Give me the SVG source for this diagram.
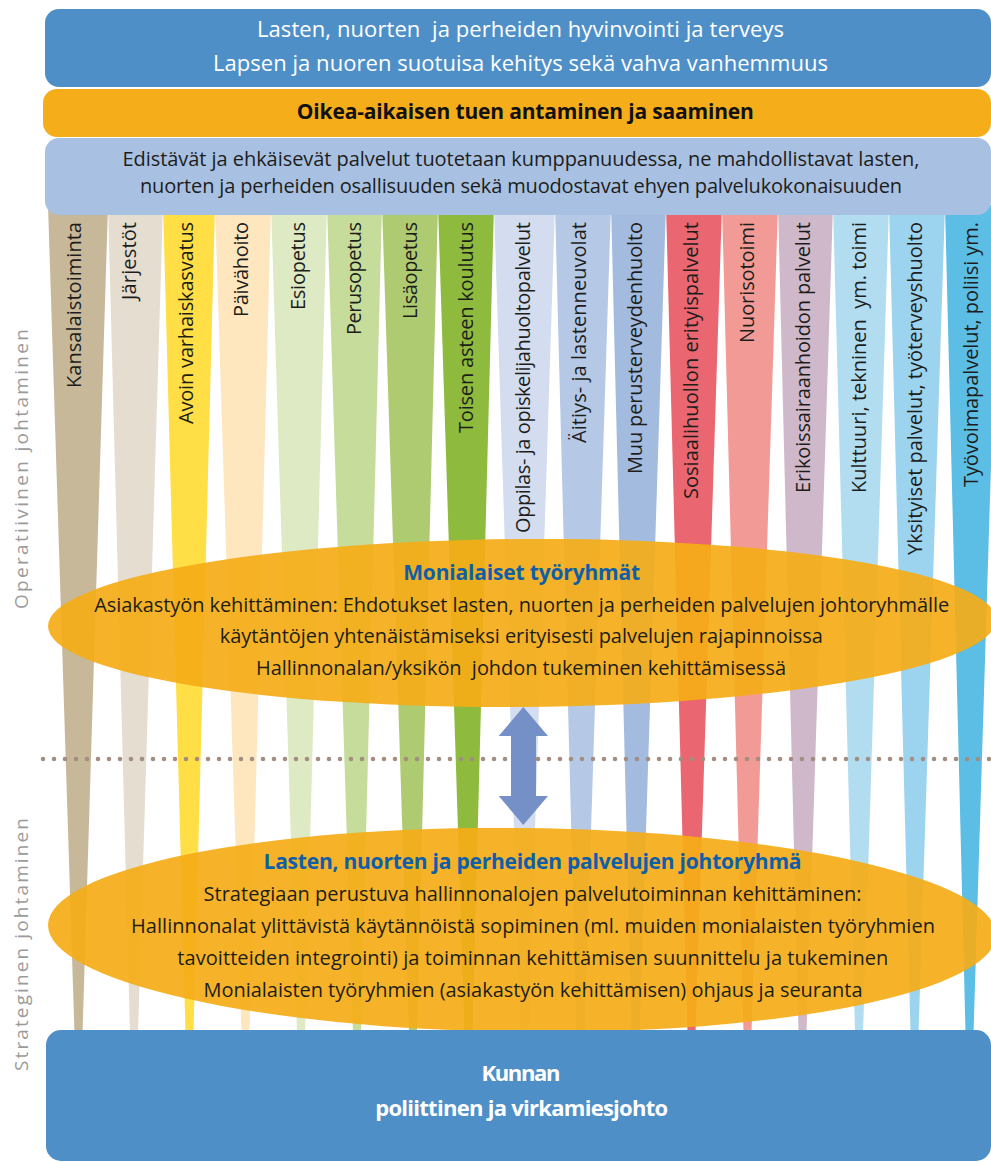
<svg xmlns="http://www.w3.org/2000/svg" width="991" height="1162" viewBox="0 0 991 1162">
<style>
text{font-family:"Open Sans","Noto Sans","DejaVu Sans",sans-serif}
.tw{fill:#fff;font-size:22px}
.tbar{fill:#111;font-size:21px;font-weight:700}
.tb{fill:#1d1d1b;font-size:20px}
.th{fill:#0f5ea8;font-size:21px;font-weight:700}
.tc{fill:#1d1d1b;font-size:20px}
.ts{fill:#9b9b9b;font-size:19px}
.tbot{fill:#fff;font-size:22px;font-weight:700}
.ell{fill:#F5AD17;fill-opacity:0.92}
.box{fill:#4F8FC7}
</style>
<g id="columns">
<g id="col-kansalaistoiminta"><polygon points="48,205 108,205 82.3,1040 74.7,1040" fill="#C8B89A"/><text class="tc" text-anchor="end" textLength="166" transform="translate(81,222) rotate(-90)">Kansalaistoiminta</text></g>
<g id="col-jarjestot"><polygon points="108,205 163,205 137.8,1040 130.2,1040" fill="#E5DED0"/><text class="tc" text-anchor="end" textLength="78" transform="translate(136,222) rotate(-90)">Järjestöt</text></g>
<g id="col-avoin"><polygon points="163,205 215,205 193.3,1040 185.7,1040" fill="#FFDE46"/><text class="tc" text-anchor="end" textLength="202" transform="translate(192.5,222) rotate(-90)">Avoin varhaiskasvatus</text></g>
<g id="col-paivahoito"><polygon points="215,205 271,205 249.3,1040 241.7,1040" fill="#FEE6BF"/><text class="tc" text-anchor="end" textLength="95" transform="translate(248,222) rotate(-90)">Päivähoito</text></g>
<g id="col-esiopetus"><polygon points="271,205 327,205 304.8,1040 297.2,1040" fill="#DEEAC4"/><text class="tc" text-anchor="end" textLength="88" transform="translate(304.5,222) rotate(-90)">Esiopetus</text></g>
<g id="col-perusopetus"><polygon points="327,205 382,205 360.8,1040 353.2,1040" fill="#C6DC9A"/><text class="tc" text-anchor="end" textLength="113" transform="translate(360.5,222) rotate(-90)">Perusopetus</text></g>
<g id="col-lisaopetus"><polygon points="382,205 438,205 416.8,1040 409.2,1040" fill="#AFCB72"/><text class="tc" text-anchor="end" textLength="97" transform="translate(417,222) rotate(-90)">Lisäopetus</text></g>
<g id="col-toisen-asteen"><polygon points="438,205 494,205 472.3,1040 464.7,1040" fill="#8EBB3E"/><text class="tc" text-anchor="end" textLength="211" transform="translate(473,222) rotate(-90)">Toisen asteen koulutus</text></g>
<g id="col-oppilashuolto"><polygon points="494,205 555,205 528.3,1040 520.7,1040" fill="#D3DDEF"/><text class="tc" text-anchor="end" textLength="311" transform="translate(530,222) rotate(-90)">Oppilas- ja opiskelijahuoltopalvelut</text></g>
<g id="col-neuvolat"><polygon points="555,205 611,205 584.3,1040 576.7,1040" fill="#B5C8E6"/><text class="tc" text-anchor="end" textLength="221" transform="translate(585.5,222) rotate(-90)">Äitiys- ja lastenneuvolat</text></g>
<g id="col-perusterveydenhuolto"><polygon points="611,205 666,205 639.3,1040 631.7,1040" fill="#A2BBDF"/><text class="tc" text-anchor="end" textLength="252" transform="translate(642,222) rotate(-90)">Muu perusterveydenhuolto</text></g>
<g id="col-sosiaalihuolto"><polygon points="666,205 722,205 695.3,1040 687.7,1040" fill="#EA6670"/><text class="tc" text-anchor="end" textLength="277" transform="translate(698,222) rotate(-90)">Sosiaalihuollon erityispalvelut</text></g>
<g id="col-nuorisotoimi"><polygon points="722,205 778,205 751.3,1040 743.7,1040" fill="#F29B96"/><text class="tc" text-anchor="end" textLength="121" transform="translate(753.5,222) rotate(-90)">Nuorisotoimi</text></g>
<g id="col-erikoissairaanhoito"><polygon points="778,205 833,205 806.3,1040 798.7,1040" fill="#CFB8CA"/><text class="tc" text-anchor="end" textLength="271" transform="translate(809.5,222) rotate(-90)">Erikoissairaanhoidon palvelut</text></g>
<g id="col-kulttuuri"><polygon points="833,205 889,205 862.8,1040 855.2,1040" fill="#B2DDF1"/><text class="tc" text-anchor="end" textLength="271" transform="translate(865.5,222) rotate(-90)">Kulttuuri, tekninen&#160; ym. toimi</text></g>
<g id="col-yksityiset"><polygon points="889,205 945,205 918.3,1040 910.7,1040" fill="#9CD3EE"/><text class="tc" text-anchor="end" textLength="333" transform="translate(922,222) rotate(-90)">Yksityiset palvelut, työterveyshuolto</text></g>
<g id="col-tyovoima"><polygon points="945,205 999,205 973.3,1040 965.7,1040" fill="#5CBDE5"/><text class="tc" text-anchor="end" textLength="265" transform="translate(978,222) rotate(-90)">Työvoimapalvelut, poliisi ym.</text></g>
</g>
<g id="goal-box">
<rect class="box" x="45" y="9" width="946" height="78" rx="14"/>
<text class="tw" x="520.5" y="37" text-anchor="middle" textLength="527">Lasten, nuorten&#160; ja perheiden hyvinvointi ja terveys</text>
<text class="tw" x="520.5" y="70.5" text-anchor="middle" textLength="615">Lapsen ja nuoren suotuisa kehitys sekä vahva vanhemmuus</text>
</g>
<g id="support-bar">
<rect x="43" y="89" width="948" height="48" rx="14" fill="#F5AE1A"/>
<text class="tbar" x="525.3" y="119.3" text-anchor="middle" textLength="457">Oikea-aikaisen tuen antaminen ja saaminen</text>
</g>
<g id="services-box">
<rect x="45" y="138" width="946" height="77" rx="14" fill="#A8C1E2"/>
<text class="tb" x="521" y="166" text-anchor="middle" textLength="797">Edistävät ja ehkäisevät palvelut tuotetaan kumppanuudessa, ne mahdollistavat lasten,</text>
<text class="tb" x="521" y="193.3" text-anchor="middle" textLength="762">nuorten ja perheiden osallisuuden sekä muodostavat ehyen palvelukokonaisuuden</text>
</g>
<g id="workgroups">
<ellipse class="ell" cx="522" cy="623" rx="474" ry="84" transform="rotate(-0.4 522 623)"/>
<text class="th" x="521.7" y="580" text-anchor="middle" textLength="237">Monialaiset työryhmät</text>
<text class="tb" x="521.7" y="611.7" text-anchor="middle" textLength="855">Asiakastyön kehittäminen: Ehdotukset lasten, nuorten ja perheiden palvelujen johtoryhmälle</text>
<text class="tb" x="521.3" y="643.3" text-anchor="middle" textLength="603">käytäntöjen yhtenäistämiseksi erityisesti palvelujen rajapinnoissa</text>
<text class="tb" x="521" y="675" text-anchor="middle" textLength="530">Hallinnonalan/yksikön&#160; johdon tukeminen kehittämisessä</text>
</g>
<g id="steering-group">
<ellipse class="ell" cx="522" cy="930" rx="474" ry="102" transform="rotate(0.6 522 930)"/>
<text class="th" x="532.5" y="869.3" text-anchor="middle" textLength="538">Lasten, nuorten ja perheiden palvelujen johtoryhmä</text>
<text class="tb" x="532.5" y="901" text-anchor="middle" textLength="658">Strategiaan perustuva hallinnonalojen palvelutoiminnan kehittäminen:</text>
<text class="tb" x="533" y="932.7" text-anchor="middle" textLength="804">Hallinnonalat ylittävistä käytännöistä sopiminen (ml. muiden monialaisten työryhmien</text>
<text class="tb" x="532.8" y="965" text-anchor="middle" textLength="711">tavoitteiden integrointi) ja toiminnan kehittämisen suunnittelu ja tukeminen</text>
<text class="tb" x="533" y="996.7" text-anchor="middle" textLength="659">Monialaisten työryhmien (asiakastyön kehittämisen) ohjaus ja seuranta</text>
</g>
<g id="connectors">
<line x1="43" y1="759" x2="991" y2="759" stroke="#A38D80" stroke-width="4.6" stroke-linecap="round" stroke-dasharray="0 11"/>
<polygon points="523.3,707 548,736 536,736 536,796 548,796 523.3,825 498.7,796 511,796 511,736 498.7,736" fill="#7490C6"/>
</g>
<g id="municipal-leadership">
<rect class="box" x="46" y="1030" width="945" height="131" rx="15"/>
<text class="tbot" x="521" y="1080.7" text-anchor="middle" textLength="79">Kunnan</text>
<text class="tbot" x="521.7" y="1116" text-anchor="middle" textLength="293">poliittinen ja virkamiesjohto</text>
</g>
<g id="side-labels">
<text class="ts" textLength="280" transform="translate(28,609) rotate(-90)">Operatiivinen johtaminen</text>
<text class="ts" textLength="253" transform="translate(28,1071) rotate(-90)">Strateginen johtaminen</text>
</g>
</svg>
